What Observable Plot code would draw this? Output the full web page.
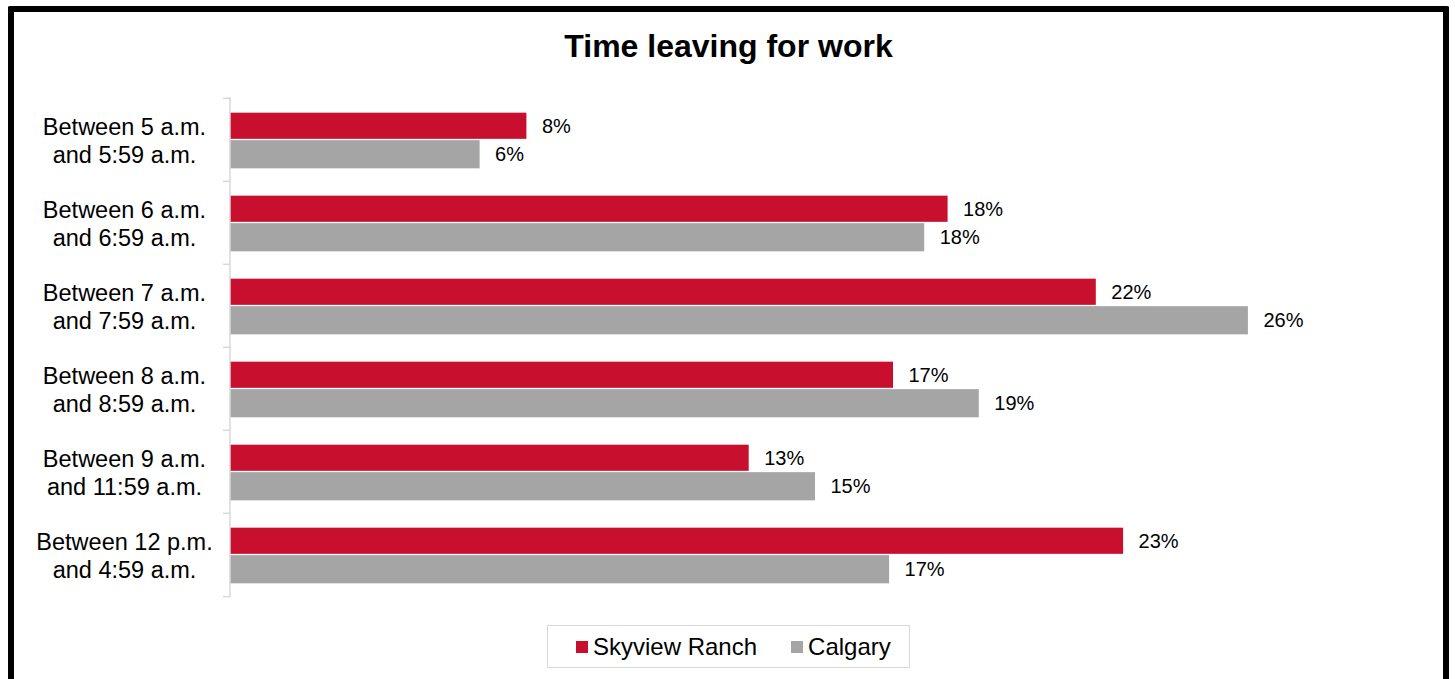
<!DOCTYPE html>
<html>
<head>
<meta charset="utf-8">
<script src="https://cdn.jsdelivr.net/npm/d3@7"></script>
<script src="https://cdn.jsdelivr.net/npm/@observablehq/plot@0.6"></script>
<style>
  html, body { margin: 0; padding: 0; background: #fff; overflow: hidden; }
  body { width: 1455px; height: 679px; position: relative; font-family: "Liberation Sans", Arial, sans-serif; }
  #frame { position: absolute; left: 8px; top: 6px; width: 1441px; height: 720px; box-sizing: border-box;
           border: 6px solid #000; border-bottom: none; border-radius: 2px; pointer-events: none; }
  #title { position: absolute; left: 0; width: 1457px; top: 28px; text-align: center; font-weight: bold; font-size: 32px; line-height: 36px; color: #000; }
  #chart { position: absolute; left: 0; top: 0; }
  #legend { position: absolute; left: 547px; top: 625px; width: 363px; height: 43px; box-sizing: border-box;
            border: 1.5px solid #d9d9d9; display: flex; align-items: center; justify-content: flex-start;
            padding-left: 28px; gap: 34px; font-size: 24px; color: #000; }
  .item { display: flex; align-items: center; gap: 5px; }
  .sw { width: 12px; height: 12px; display: inline-block; }
</style>
</head>
<body>
<div id="chart"></div>
<div id="title">Time leaving for work</div>
<div id="legend"></div>
<div id="frame"></div>
<script>
const categories = [
  "Between 5 a.m.\nand 5:59 a.m.",
  "Between 6 a.m.\nand 6:59 a.m.",
  "Between 7 a.m.\nand 7:59 a.m.",
  "Between 8 a.m.\nand 8:59 a.m.",
  "Between 9 a.m.\nand 11:59 a.m.",
  "Between 12 p.m.\nand 4:59 a.m."
];
const seriesNames = ["Skyview Ranch", "Calgary"];
const skyview = [0.076, 0.184, 0.222, 0.170, 0.133, 0.229];
const calgary = [0.064, 0.178, 0.261, 0.192, 0.150, 0.169];
const colors = ["#C8102E", "#A5A5A5"];

const W = 1455, H = 679, mt = 97, mb = 82, ml = 230, mr = 55;
const bw = (H - mt - mb) / categories.length;

const rows = [];
categories.forEach((c, i) => {
  rows.push({category: c, series: seriesNames[0], value: skyview[i]});
  rows.push({category: c, series: seriesNames[1], value: calgary[i]});
});
const sky = rows.filter(d => d.series === seriesNames[0]);
const cal = rows.filter(d => d.series === seriesNames[1]);
const fmt = d3.format(".0%");
const half = bw / 2;

const plot = Plot.plot({
  width: W, height: H,
  marginTop: mt, marginBottom: mb, marginLeft: ml, marginRight: mr,
  style: {background: "transparent", fontFamily: "'Liberation Sans', Arial, sans-serif", fontSize: "20px", color: "#000"},
  x: {domain: [0, 0.30], axis: null},
  y: {domain: categories, padding: 0},
  marks: [
    Plot.barX(sky, {x: "value", y: "category", fill: colors[0], insetTop: half - 27, insetBottom: half + 0.5}),
    Plot.barX(cal, {x: "value", y: "category", fill: colors[1], insetTop: half + 0.5, insetBottom: half - 29}),
    Plot.text(sky, {x: "value", y: "category", text: d => fmt(d.value), textAnchor: "start", dx: 15, dy: -13, fontSize: 20, fill: "#000"}),
    Plot.text(cal, {x: "value", y: "category", text: d => fmt(d.value), textAnchor: "start", dx: 15, dy: 15, fontSize: 20, fill: "#000"}),
    Plot.ruleX([0], {stroke: "#d9d9d9", strokeWidth: 1.5, dx: -0.5}),
    Plot.axisY({ticks: categories, tickSize: 7, tickFormat: () => "", label: null, dy: -half, stroke: "#d9d9d9", strokeWidth: 1.5}),
    Plot.axisY({ticks: categories.slice(-1), tickSize: 7, tickFormat: () => "", label: null, dy: half, stroke: "#d9d9d9", strokeWidth: 1.5}),
    Plot.text(categories, {y: d => d, text: d => d, frameAnchor: "left", dx: -106, dy: 0, textAnchor: "middle", lineHeight: 1.21, fontSize: 23.5, fill: "#000"})
  ]
});
document.getElementById("chart").appendChild(plot);

const legend = document.getElementById("legend");
seriesNames.forEach((s, i) => {
  const it = document.createElement("div");
  it.className = "item";
  it.innerHTML = `<span class="sw" style="background:${colors[i]}"></span><span>${s}</span>`;
  legend.appendChild(it);
});
</script>
</body>
</html>
